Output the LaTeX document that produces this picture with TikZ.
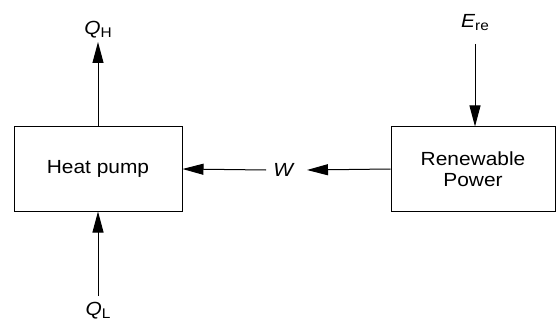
\documentclass[tikz,border=0pt]{standalone}
\usepackage{fontspec}
\setmainfont{Liberation Sans}[FakeStretch=1.1]
\usetikzlibrary{arrows.meta}
\begin{document}
\begin{tikzpicture}[x=1pt,y=-1pt,
  every node/.style={font=\fontsize{19}{23}\selectfont},
  box/.style={draw,line width=1pt,minimum width=168pt,minimum height=84pt,align=center,inner sep=0pt},
  arr/.style={line width=1pt,-{Triangle[length=21pt,width=11pt]}},
  sub/.style={}]
\useasboundingbox (0,0) rectangle (556,323);
\node[box] (hp) at (98,169) {Heat pump};
\node[box,minimum width=164pt] (rp) at (473,169) {Renewable\\[-2pt]Power};
\node (qh) at (98,30) {\textit{Q}\raisebox{-0.3ex}{\fontsize{14}{14}\selectfont H}};
\node (ql) at (98,311) {\textit{Q}\raisebox{-0.3ex}{\fontsize{14}{14}\selectfont L}};
\node (ere) at (475,23) {\textit{E}\raisebox{-0.3ex}{\fontsize{14}{14}\selectfont re}};
\node (w) at (284,170) {\textit{W}};
\coordinate (qhtip) at (98,42);
\coordinate (qlstart) at (98,296);
\coordinate (erestart) at (475,44);
\coordinate (wleft) at (266,170);
\coordinate (wright) at (307,170);
\draw[arr] (hp.north) -- (qhtip);
\draw[arr] (qlstart) -- (hp.south);
\draw[arr] (erestart) -- (rp.north -| erestart);
\draw[arr] (wleft) -- (hp.east);
\draw[arr] (rp.west) -- (wright);
\end{tikzpicture}
\end{document}
